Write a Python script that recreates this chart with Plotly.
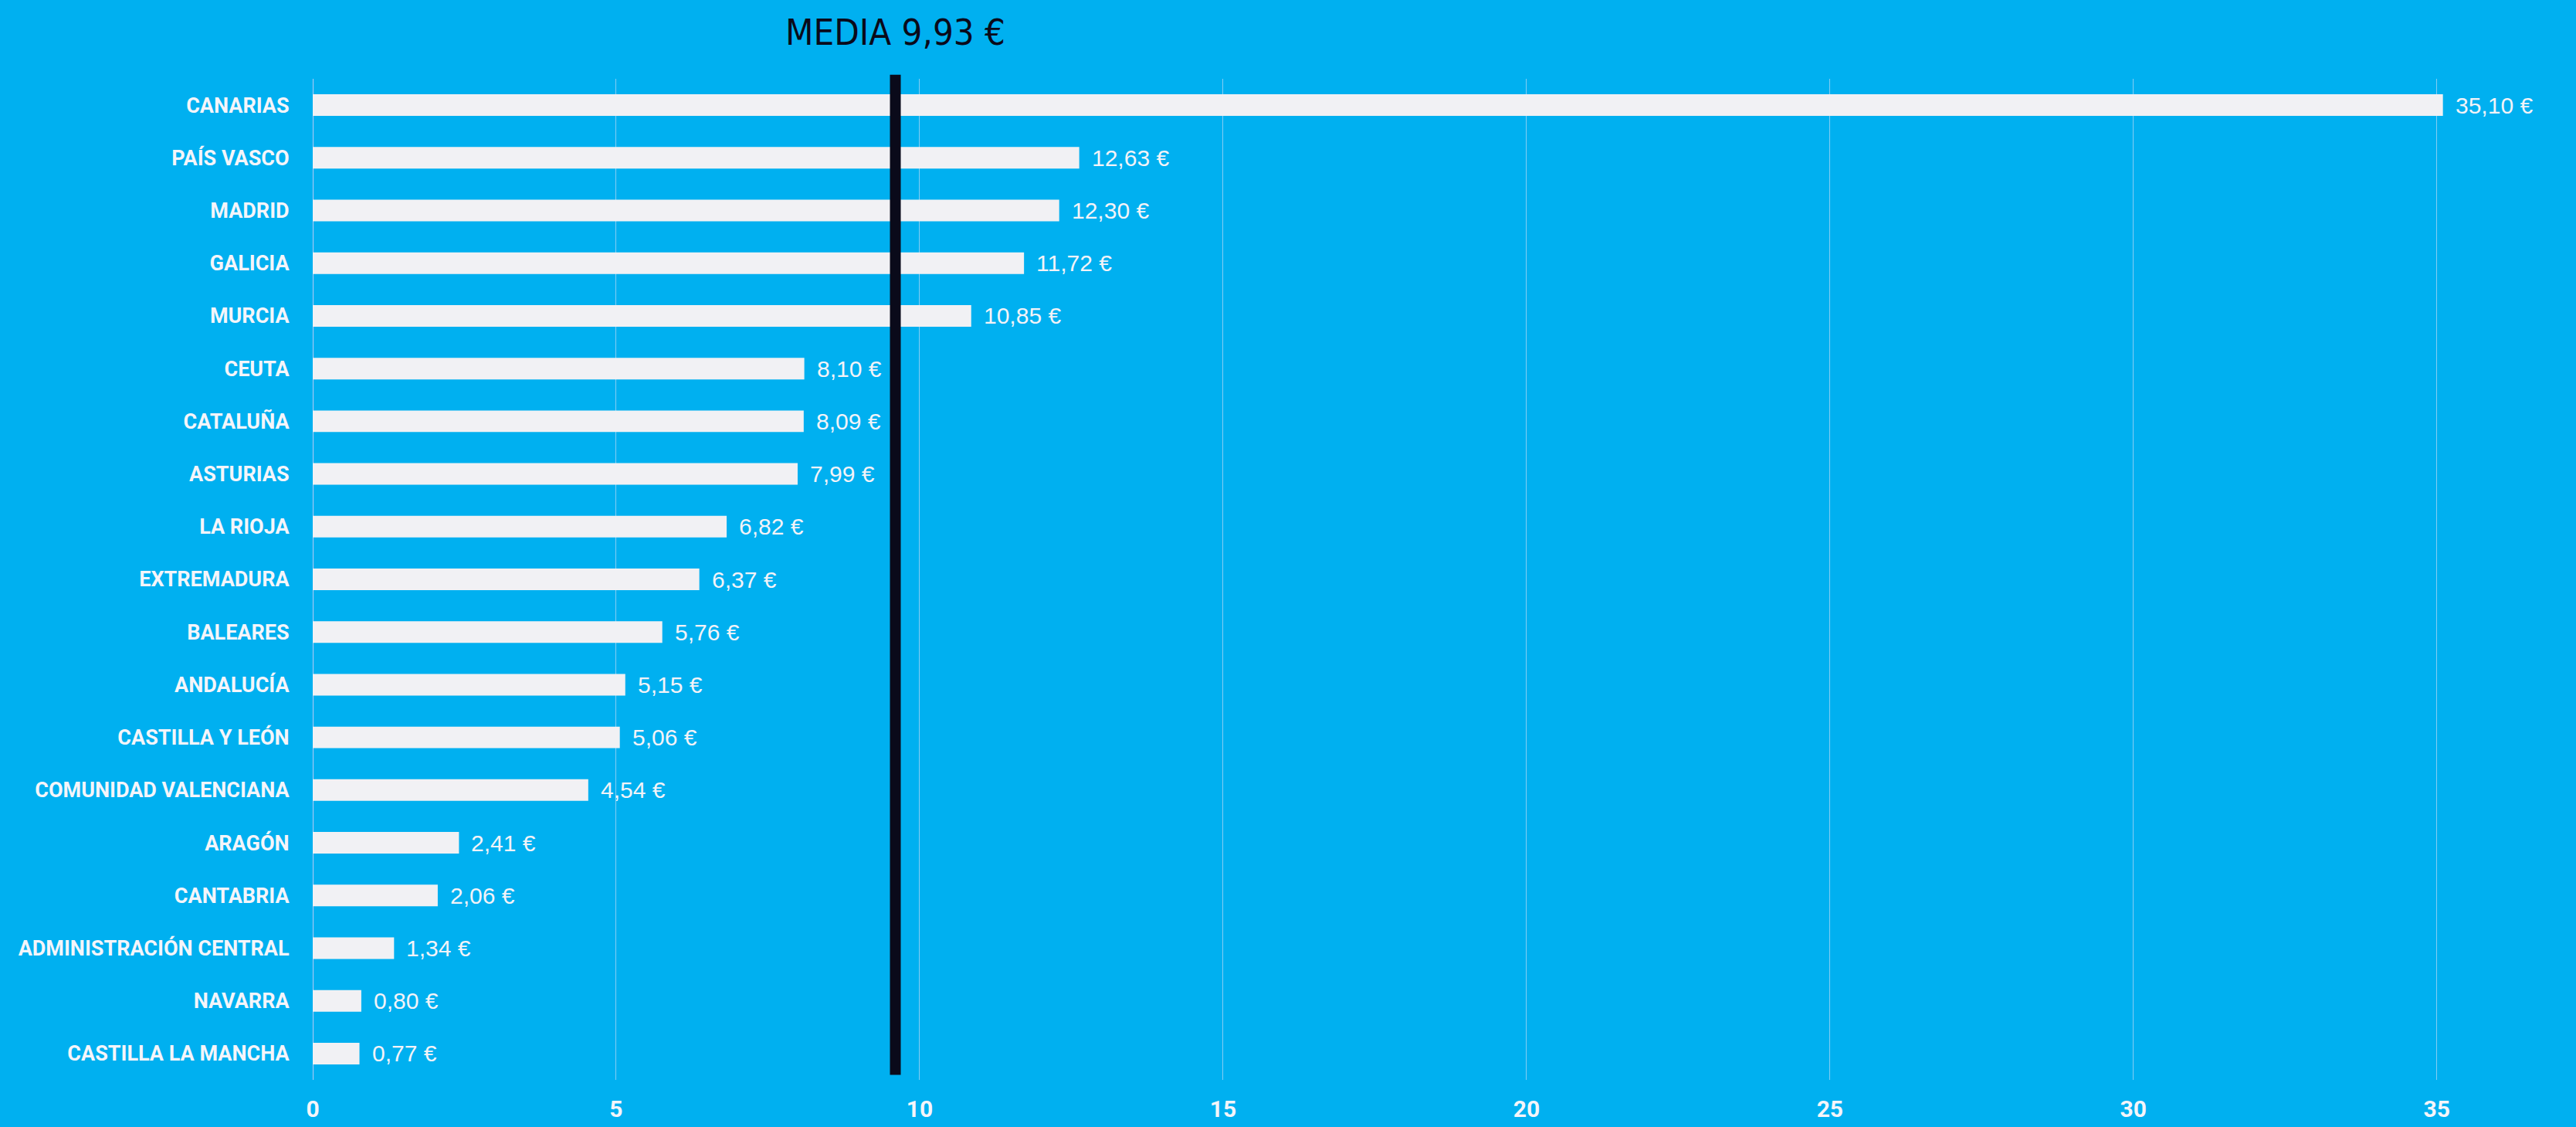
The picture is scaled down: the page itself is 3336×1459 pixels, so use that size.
import plotly.graph_objects as go

regiones = ["CANARIAS", "PAÍS VASCO", "MADRID", "GALICIA", "MURCIA", "CEUTA", "CATALUÑA",
            "ASTURIAS", "LA RIOJA", "EXTREMADURA", "BALEARES", "ANDALUCÍA", "CASTILLA Y LEÓN",
            "COMUNIDAD VALENCIANA", "ARAGÓN", "CANTABRIA", "ADMINISTRACIÓN CENTRAL", "NAVARRA",
            "CASTILLA LA MANCHA"]
valores = [35.10, 12.63, 12.30, 11.72, 10.85, 8.10, 8.09, 7.99, 6.82, 6.37, 5.76, 5.15, 5.06,
           4.54, 2.41, 2.06, 1.34, 0.80, 0.77]
media = 9.93
media_marker_x = 9.6
tick_vals = [0, 5, 10, 15, 20, 25, 30, 35]

BG = "#00B0F0"
BAR = "#F1F1F4"
COND = "DejaVu Sans Condensed, Roboto, sans-serif"
LABEL = "Roboto, sans-serif"


def eur(v):
    return f"{v:.2f}".replace(".", ",") + " €"


fig = go.Figure()
fig.add_trace(go.Bar(
    x=valores, y=regiones, orientation="h",
    marker=dict(color=BAR, line=dict(width=0)),
    width=0.41, hoverinfo="skip",
))

for r, v in zip(regiones, valores):
    fig.add_annotation(x=v, y=r, text=eur(v), showarrow=False, xanchor="left", xshift=14,
                       font=dict(family="Liberation Sans, Arial, sans-serif", size=30, color="#F3F3F8"))

fig.add_shape(type="line", x0=media_marker_x, x1=media_marker_x, xref="x",
              y0=0.005, y1=1.004, yref="y domain",
              line=dict(color="#0A0A1A", width=14))

fig.add_annotation(x=media_marker_x, xref="x", y=1.047, yref="paper", yanchor="middle",
                   text=f"MEDIA {media:.2f} €".replace(".", ","), showarrow=False,
                   font=dict(family=COND, size=47, color="#0A0A1A"))

fig.update_layout(
    width=3336, height=1459,
    paper_bgcolor=BG, plot_bgcolor=BG,
    margin=dict(l=405, r=23, t=102, b=61, autoexpand=False),
    showlegend=False,
    bargap=0.59,
)
fig.update_xaxes(range=[0, 37], tickvals=tick_vals, showgrid=True, gridcolor="rgba(220,225,245,0.6)",
                 gridwidth=1, zeroline=False, showline=False, automargin=False,
                 ticks="outside", ticklen=11, tickcolor=BG,
                 tickfont=dict(family=LABEL, size=30, color="#F5F5FA", weight="bold"), fixedrange=True)
fig.update_yaxes(autorange="reversed", showgrid=False, zeroline=False, automargin=False,
                 showline=False, ticks="outside", ticklen=24, tickcolor=BG,
                 tickfont=dict(family=LABEL, size=27, color="#F5F5FA", weight="bold"))
fig.add_shape(type="line", x0=0, x1=0, xref="x", y0=0, y1=1, yref="y domain",
              line=dict(color="rgba(200,205,245,0.9)", width=2), layer="below")

fig.write_html("out.html", config={"displayModeBar": False},
               post_script="document.body.style.margin='0';document.body.style.background='#00B0F0';")
